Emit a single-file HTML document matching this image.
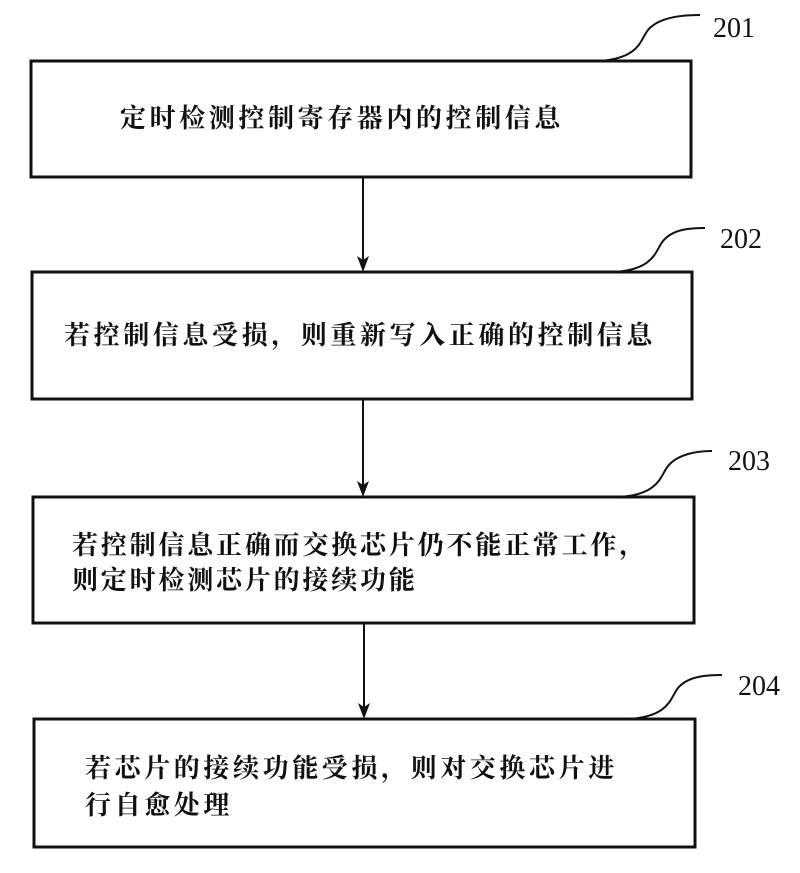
<!DOCTYPE html>
<html><head><meta charset="utf-8"><style>
body{margin:0;background:#fff;}
.t{font-family:"Liberation Serif","Noto Serif CJK SC",serif;font-weight:bold;font-size:26px;fill:#111;}
.n{font-family:"Liberation Serif",serif;font-size:28px;fill:#111;}
</style></head><body>
<svg width="800" height="868" viewBox="0 0 800 868" xmlns="http://www.w3.org/2000/svg">
<g fill="none" stroke="#111" stroke-width="3">
<rect x="31" y="61" width="660" height="116"/>
<rect x="32" y="272" width="660" height="127"/>
<rect x="33" y="497" width="661" height="126"/>
<rect x="34" y="719" width="661" height="128"/>
</g>
<g fill="none" stroke="#111" stroke-width="2">
<path d="M600,61 C640,58 640,40 648,30 C658,18 680,15 700,15"/>
<path d="M615,272 C655,269 655,251 663,241 C673,229 690,228 705,228"/>
<path d="M620,497 C660,494 660,476 668,466 C678,454 697,451 712,451"/>
<path d="M630,719 C670,716 670,698 678,688 C688,676 707,675 722,675"/>
<line x1="363" y1="177" x2="363" y2="262"/>
<line x1="363" y1="399" x2="363" y2="487"/>
<line x1="364" y1="623" x2="364" y2="709"/>
</g>
<g fill="#111">
<polygon points="357,256 363,272 369,256 363,260"/>
<polygon points="357,481 363,497 369,481 363,485"/>
<polygon points="358,703 364,719 370,703 364,707"/>
</g>
<text class="n" x="713" y="37">201</text>
<text class="n" x="720" y="248">202</text>
<text class="n" x="728" y="470">203</text>
<text class="n" x="738" y="695">204</text>
<text class="t" x="120" y="127" letter-spacing="3.6">定时检测控制寄存器内的控制信息</text>
<text class="t" x="64" y="344" letter-spacing="3.6">若控制信息受损，则重新写入正确的控制信息</text>
<text class="t" x="72" y="554" letter-spacing="2.8">若控制信息正确而交换芯片仍不能正常工作，</text>
<text class="t" x="72" y="589" letter-spacing="2.8">则定时检测芯片的接续功能</text>
<text class="t" x="85" y="777" letter-spacing="3.6">若芯片的接续功能受损，则对交换芯片进</text>
<text class="t" x="85" y="814" letter-spacing="3.6">行自愈处理</text>
</svg>
</body></html>
